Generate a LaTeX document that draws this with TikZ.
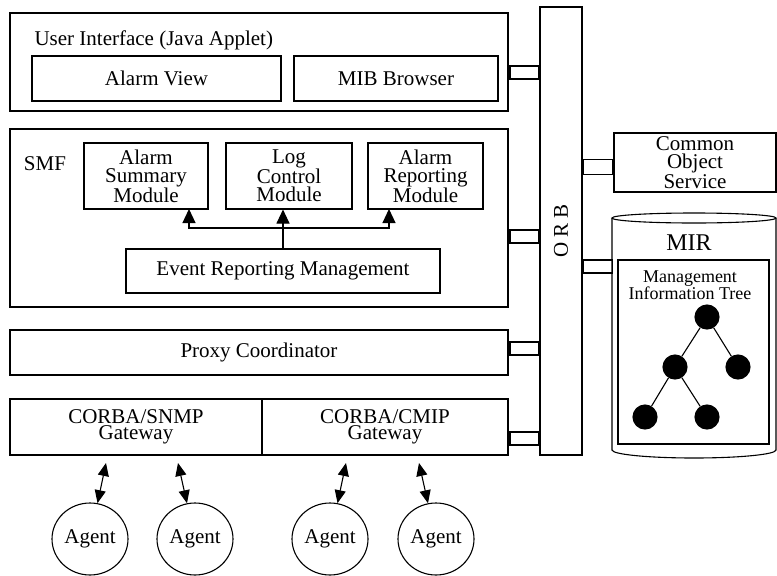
\documentclass[tikz,border=0pt]{standalone}
\usepackage{fontspec}
\setmainfont{Liberation Serif}
\usetikzlibrary{arrows.meta,shapes.geometric}

\begin{document}
\begin{tikzpicture}[x=1pt,y=-1pt,line width=1.1pt,
    box/.style={draw,rectangle,inner sep=0pt,align=center,font=\fontsize{21}{18}\selectfont},
    lbl/.style={inner sep=0pt,align=center,font=\fontsize{21}{18}\selectfont},
    port/.style={draw,rectangle,inner sep=0pt,minimum width=29pt,minimum height=13pt},
    agent/.style={draw,ellipse,inner sep=0pt,minimum width=76pt,minimum height=72pt,font=\fontsize{21}{18}\selectfont},
    leaf/.style={draw,circle,fill=black,inner sep=0pt,minimum size=24pt},
    tip/.style={-{Triangle[length=14pt,width=13pt]}},
    dbl/.style={{Triangle[length=13pt,width=11pt]}-{Triangle[length=13pt,width=11pt]}}]
  \useasboundingbox (0,0) rectangle (777,576);
  % user interface
  \node[box,minimum width=498pt,minimum height=98pt] (ui) at (259,62) {};
  \node[lbl,anchor=west] (uititle) at (34,40) {User Interface (Java Applet)};
  \node[box,minimum width=249pt,minimum height=45pt] (alarmview) at (156.5,78.5) {Alarm View};
  \node[box,minimum width=204pt,minimum height=45pt] (mib) at (396,78.5) {MIB Browser};
  % SMF
  \node[box,minimum width=498pt,minimum height=178pt] (smf) at (259,218) {};
  \node[lbl] (smflabel) at (45,164) {SMF};
  \node[box,minimum width=124pt,minimum height=66pt] (sum) at (146,176) {Alarm\\Summary\\Module};
  \node[box,minimum width=126pt,minimum height=66pt] (log) at (289,176) {Log\\Control\\Module};
  \node[box,minimum width=115pt,minimum height=66pt] (rep) at (425.5,176) {Alarm\\Reporting\\Module};
  \node[box,minimum width=314pt,minimum height=44pt] (erm) at (283,271) {Event Reporting Management};
  \coordinate (j) at (283,228);
  \coordinate (sumin) at (189,209);
  \coordinate (repin) at (389,209);
  \draw (erm.north) -- (j);
  \draw[tip] (j) -| (sumin);
  \draw[tip] (j) -- (j |- log.south);
  \draw[tip] (j) -| (repin);
  % proxy and gateways
  \node[box,minimum width=498pt,minimum height=45pt] (proxy) at (259,352.5) {Proxy Coordinator};
  \node[box,minimum width=252pt,minimum height=56pt,font=\fontsize{21}{16}\selectfont] (snmp) at (136,427) {CORBA/SNMP\\Gateway};
  \node[box,minimum width=246pt,minimum height=56pt,font=\fontsize{21}{16}\selectfont] (cmip) at (385,427) {CORBA/CMIP\\Gateway};
  % ORB
  \node[box,rotate=90,minimum width=448pt,minimum height=42pt] (orb) at (561,231) {O R B};
  \node[port] (p1) at (524.5,72.5) {};
  \node[port] (p2) at (524.5,236.5) {};
  \node[port] (p3) at (524.5,348.5) {};
  \node[port] (p4) at (524.5,438.5) {};
  \node[port,minimum height=15pt] (p5) at (598,167) {};
  \node[port] (p6) at (598,266.5) {};
  % services
  \node[box,minimum width=162pt,minimum height=59pt] (cos) at (695,162.5) {Common\\Object\\Service};
  \draw (612,218) -- (612,450) arc[start angle=180,end angle=360,x radius=82pt,y radius=8pt] -- (776,218);
  \draw (694,218) ellipse [x radius=82pt,y radius=5pt];
  \node[lbl,font=\fontsize{24}{24}\selectfont] (mir) at (689,243) {MIR};
  \node[box,minimum width=151pt,minimum height=184pt] (mit) at (693.5,352) {};
  \node[lbl,font=\fontsize{18}{15}\selectfont] (mitlabel) at (690,285) {Management\\Information Tree};
  \node[leaf] (t0) at (707,317) {};
  \node[leaf] (t1) at (675,367) {};
  \node[leaf] (t2) at (738,367) {};
  \node[leaf] (t3) at (645,417) {};
  \node[leaf] (t4) at (707,417) {};
  \draw (t0) -- (t1);
  \draw (t0) -- (t2);
  \draw (t1) -- (t3);
  \draw (t1) -- (t4);
  % agents
  \node[agent] (a1) at (90,539) {Agent};
  \node[agent] (a2) at (195,539) {Agent};
  \node[agent] (a3) at (330,539) {Agent};
  \node[agent] (a4) at (436,539) {Agent};
  \coordinate (g1) at (106,463);
  \coordinate (g2) at (178,463);
  \coordinate (g3) at (346,463);
  \coordinate (g4) at (419,463);
  \draw[dbl] (g1) -- (a1);
  \draw[dbl] (g2) -- (a2);
  \draw[dbl] (g3) -- (a3);
  \draw[dbl] (g4) -- (a4);
\end{tikzpicture}
\end{document}
